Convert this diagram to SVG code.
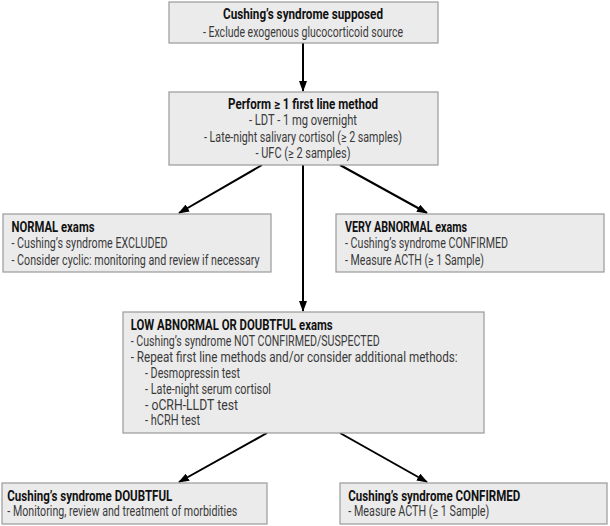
<svg xmlns="http://www.w3.org/2000/svg" width="610" height="526" viewBox="0 0 610 526">
<defs>
<marker id="ah" markerWidth="11" markerHeight="8" refX="10" refY="4" orient="auto" markerUnits="userSpaceOnUse">
<path d="M0,0 L11,4 L0,8 Z" fill="#000"/>
</marker>
<style>
.box{fill:#ebebeb;stroke:#9a9a9a;stroke-width:1.2}
text{font-family:Roboto,"Liberation Sans",sans-serif;font-size:14px;fill:#3a3a3a}
.t{font-weight:bold;fill:#111}
.c{text-anchor:middle}
.conn line{stroke:#000;stroke-width:2;marker-end:url(#ah)}
</style>
</defs>
<rect width="610" height="526" fill="#fff"/>
<g id="connectors" class="conn">
<line x1="303" y1="43" x2="303" y2="91"/>
<line x1="262" y1="165" x2="179" y2="213"/>
<line x1="303" y1="165" x2="303" y2="311"/>
<line x1="340" y1="165" x2="427" y2="213"/>
<line x1="267" y1="433" x2="179" y2="482"/>
<line x1="340" y1="433" x2="427" y2="482"/>
</g>
<g id="n1">
<rect class="box" x="169" y="2" width="269" height="41"/>
<text class="t c" x="303" y="19" textLength="160" lengthAdjust="spacingAndGlyphs">Cushing’s syndrome supposed</text>
<text class="c" x="303" y="37" textLength="200" lengthAdjust="spacingAndGlyphs">- Exclude exogenous glucocorticoid source</text>
</g>
<g id="n2">
<rect class="box" x="169" y="92" width="269" height="73"/>
<text class="t c" x="303" y="109" textLength="150" lengthAdjust="spacingAndGlyphs">Perform ≥ 1 first line method</text>
<text class="c" x="303" y="125" textLength="108" lengthAdjust="spacingAndGlyphs">- LDT - 1 mg overnight</text>
<text class="c" x="303" y="142" textLength="198" lengthAdjust="spacingAndGlyphs">- Late-night salivary cortisol (≥ 2 samples)</text>
<text class="c" x="303" y="158" textLength="95" lengthAdjust="spacingAndGlyphs">- UFC (≥ 2 samples)</text>
</g>
<g id="n3">
<rect class="box" x="3" y="214" width="268" height="58"/>
<text class="t" x="11.5" y="232" textLength="83" lengthAdjust="spacingAndGlyphs">NORMAL exams</text>
<text x="11.5" y="248" textLength="156" lengthAdjust="spacingAndGlyphs">- Cushing’s syndrome EXCLUDED</text>
<text x="11.5" y="265" textLength="248" lengthAdjust="spacingAndGlyphs">- Consider cyclic: monitoring and review if necessary</text>
</g>
<g id="n4">
<rect class="box" x="336" y="214" width="268" height="58"/>
<text class="t" x="345" y="232" textLength="122" lengthAdjust="spacingAndGlyphs">VERY ABNORMAL exams</text>
<text x="345" y="248" textLength="163" lengthAdjust="spacingAndGlyphs">- Cushing’s syndrome CONFIRMED</text>
<text x="345" y="265" textLength="139" lengthAdjust="spacingAndGlyphs">- Measure ACTH (≥ 1 Sample)</text>
</g>
<g id="n5">
<rect class="box" x="123" y="312" width="361" height="121"/>
<text class="t" x="130.7" y="330" textLength="202" lengthAdjust="spacingAndGlyphs">LOW ABNORMAL OR DOUBTFUL exams</text>
<text x="130.7" y="346" textLength="249" lengthAdjust="spacingAndGlyphs">- Cushing’s syndrome NOT CONFIRMED/SUSPECTED</text>
<text x="130.7" y="362" textLength="327" lengthAdjust="spacingAndGlyphs">- Repeat first line methods and/or consider additional methods:</text>
<text x="145" y="378" textLength="95" lengthAdjust="spacingAndGlyphs">- Desmopressin test</text>
<text x="145" y="394" textLength="126" lengthAdjust="spacingAndGlyphs">- Late-night serum cortisol</text>
<text x="145" y="410" textLength="93" lengthAdjust="spacingAndGlyphs">- oCRH-LLDT test</text>
<text x="145" y="425" textLength="55" lengthAdjust="spacingAndGlyphs">- hCRH test</text>
</g>
<g id="n6">
<rect class="box" x="2" y="483" width="265" height="41"/>
<text class="t" x="7.3" y="501" textLength="165" lengthAdjust="spacingAndGlyphs">Cushing’s syndrome DOUBTFUL</text>
<text x="7.3" y="516" textLength="230" lengthAdjust="spacingAndGlyphs">- Monitoring, review and treatment of morbidities</text>
</g>
<g id="n7">
<rect class="box" x="340" y="483" width="267" height="41"/>
<text class="t" x="348.3" y="501" textLength="172" lengthAdjust="spacingAndGlyphs">Cushing’s syndrome CONFIRMED</text>
<text x="348.3" y="516" textLength="141" lengthAdjust="spacingAndGlyphs">- Measure ACTH (≥ 1 Sample)</text>
</g>
</svg>
